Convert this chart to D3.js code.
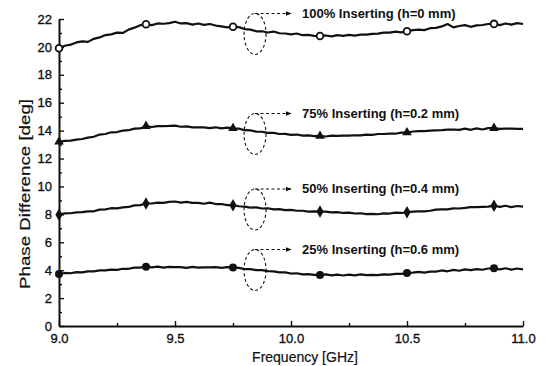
<!DOCTYPE html>
<html><head><meta charset="utf-8">
<script src="https://cdn.jsdelivr.net/npm/d3@7"></script>
<style>
html,body{margin:0;padding:0;background:#fff;}
text{font-family:"Liberation Sans",Arial,sans-serif;fill:#111;}
</style></head>
<body><svg id="chart" width="546" height="366"></svg>
<script>
// ---- data ----
const freqStart = 9.0, freqStep = 0.025; // 81 samples, 9.0 .. 11.0 GHz
const seriesNames = ["100% Inserting (h=0 mm)","75% Inserting (h=0.2 mm)","50% Inserting (h=0.4 mm)","25% Inserting (h=0.6 mm)"];
const s100 = [19.90,20.08,20.16,20.32,20.40,20.36,20.58,20.68,20.85,20.90,21.02,21.00,21.24,21.38,21.56,21.62,21.56,21.68,21.66,21.70,21.80,21.68,21.70,21.60,21.68,21.58,21.64,21.53,21.47,21.40,21.45,21.42,21.28,21.24,21.12,21.12,21.03,21.10,20.98,20.96,20.90,20.96,20.84,20.86,20.79,20.78,20.82,20.76,20.84,20.79,20.86,20.81,20.88,20.88,20.94,20.95,21.02,21.02,21.10,21.04,21.12,21.20,21.24,21.20,21.34,21.36,21.47,21.64,21.40,21.50,21.56,21.44,21.54,21.57,21.64,21.65,21.56,21.68,21.60,21.70,21.64];
const s75 = [13.20,13.26,13.28,13.36,13.40,13.50,13.56,13.72,13.76,13.88,13.90,14.00,14.03,14.14,14.16,14.32,14.26,14.32,14.33,14.34,14.36,14.28,14.30,14.23,14.24,14.24,14.18,14.24,14.16,14.22,14.17,14.14,14.03,14.02,13.93,13.92,13.84,13.84,13.76,13.77,13.70,13.72,13.64,13.66,13.61,13.62,13.58,13.64,13.62,13.64,13.64,13.67,13.66,13.72,13.70,13.76,13.76,13.78,13.78,13.86,13.86,13.94,13.96,13.97,14.00,14.02,14.04,14.07,14.08,14.06,14.14,14.06,14.16,14.08,14.18,14.18,14.12,14.14,14.14,14.12,14.12];
const s50 = [7.98,8.07,8.08,8.14,8.16,8.22,8.22,8.34,8.36,8.44,8.43,8.50,8.53,8.64,8.66,8.78,8.78,8.84,8.82,8.90,8.92,8.84,8.90,8.82,8.82,8.76,8.84,8.74,8.74,8.66,8.66,8.58,8.56,8.48,8.50,8.42,8.44,8.36,8.38,8.30,8.32,8.26,8.26,8.20,8.22,8.20,8.20,8.14,8.16,8.10,8.12,8.06,8.08,8.02,8.04,8.01,8.07,8.06,8.12,8.10,8.15,8.20,8.22,8.22,8.26,8.34,8.36,8.36,8.43,8.42,8.46,8.52,8.52,8.54,8.56,8.62,8.54,8.62,8.52,8.60,8.55];
const s25 = [3.72,3.80,3.78,3.86,3.84,3.92,3.92,3.98,3.98,4.04,4.02,4.10,4.10,4.18,4.18,4.25,4.20,4.26,4.18,4.24,4.22,4.22,4.16,4.24,4.18,4.20,4.20,4.22,4.16,4.22,4.20,4.17,4.08,4.07,4.00,4.00,3.93,3.92,3.84,3.84,3.76,3.78,3.70,3.72,3.66,3.66,3.70,3.63,3.68,3.62,3.68,3.63,3.70,3.64,3.66,3.64,3.70,3.68,3.74,3.74,3.80,3.82,3.88,3.82,3.90,3.90,3.98,3.92,4.02,3.96,4.06,4.00,4.08,4.03,4.12,4.13,4.06,4.14,4.04,4.12,4.06];
const markerIdx = [0,15,30,45,60,75];
const markerTypes = ["openCircle","triangle","diamond","circle"];
const annotCenter = [20.93,13.76,8.35,4.01]; // ellipse centre (deg)
const annotFreq = 9.845;                       // ellipse centre (GHz)
const arrowEndFreq = 10.0;
const xTicks = [9.0,9.5,10.0,10.5,11.0];
const xMinor = [9.25,9.75,10.25,10.75];
const yTicks = [0,2,4,6,8,10,12,14,16,18,20,22];
const yMinor = [1,3,5,7,9,11,13,15,17,19,21];

const allSeries = [s100,s75,s50,s25];

// ---- drawing ----
const svg = d3.select("#chart");
const x = d3.scaleLinear().domain([9,11]).range([59,523]);
const y = d3.scaleLinear().domain([0,22]).range([326,19]);
const freqs = d3.range(81).map(i=>freqStart+i*freqStep);

svg.append("defs").append("marker").attr("id","ah").attr("viewBox","0 0 10 10")
  .attr("refX",9).attr("refY",5).attr("markerWidth",6).attr("markerHeight",6)
  .attr("markerUnits","userSpaceOnUse").attr("orient","auto")
  .append("path").attr("d","M0,1 L10,5 L0,9 Z").attr("fill","#111");

// axes
svg.append("g").attr("transform",`translate(0,${y(0)})`)
  .call(d3.axisBottom(x).tickValues(xTicks).tickFormat(d3.format(".1f")).tickSizeInner(-5).tickSizeOuter(0).tickPadding(8));
svg.append("g").attr("transform",`translate(0,${y(0)})`)
  .call(d3.axisBottom(x).tickValues(xMinor).tickFormat("").tickSizeInner(-3).tickSizeOuter(0))
  .select(".domain").remove();
svg.append("g").attr("transform",`translate(${x(9)},0)`)
  .call(d3.axisLeft(y).tickValues(yTicks).tickSizeInner(-5).tickSizeOuter(0).tickPadding(7));
svg.append("g").attr("transform",`translate(${x(9)},0)`)
  .call(d3.axisLeft(y).tickValues(yMinor).tickFormat("").tickSizeInner(-3).tickSizeOuter(0))
  .select(".domain").remove();
svg.selectAll(".domain").attr("stroke","#111").attr("stroke-width",2);
svg.selectAll(".tick line").attr("stroke","#111").attr("stroke-width",1.4);
svg.selectAll(".tick text").attr("font-size",13).attr("font-family","Liberation Sans, Arial, sans-serif")
  .attr("fill","#111").attr("stroke","#111").attr("stroke-width",0.35);

// axis titles
svg.append("text").attr("x",305).attr("y",362).attr("text-anchor","middle")
  .attr("font-size",14).attr("stroke","#111").attr("stroke-width",0.2).text("Frequency [GHz]");
svg.append("text").attr("transform",`translate(30,194) rotate(-90)`).attr("text-anchor","middle")
  .attr("font-size",15).attr("textLength",190).attr("lengthAdjust","spacingAndGlyphs")
  .attr("stroke","#111").attr("stroke-width",0.2)
  .text("Phase Difference [deg]");

// lines
const line = d3.line().x((d,i)=>x(freqs[i])).y(d=>y(d));
allSeries.forEach((s,k)=>{
  svg.append("path").datum(s).attr("d",line).attr("fill","none")
    .attr("stroke","#111").attr("stroke-width",2.2).attr("stroke-linejoin","round");
  const t = markerTypes[k];
  markerIdx.forEach(i=>{
    const cx = x(freqs[i]), cy = y(s[i]);
    if(t==="openCircle"){
      svg.append("circle").attr("cx",cx).attr("cy",cy).attr("r",3.4)
        .attr("fill","#fff").attr("stroke","#111").attr("stroke-width",1.8);
    } else if(t==="circle"){
      svg.append("circle").attr("cx",cx).attr("cy",cy).attr("r",4).attr("fill","#111");
    } else {
      const sym = t==="triangle" ? d3.symbolTriangle : d3.symbolDiamond;
      svg.append("path").attr("d",d3.symbol().type(sym).size(t==="triangle"?40:45)())
        .attr("transform",`translate(${cx},${cy})`).attr("fill","#111");
    }
  });
});

// annotations
annotCenter.forEach((c,k)=>{
  const cx = x(annotFreq), cy = y(c);
  const ry = 20.5, rx = 11;
  svg.append("ellipse").attr("cx",cx).attr("cy",cy).attr("rx",rx).attr("ry",ry)
    .attr("fill","none").attr("stroke","#111").attr("stroke-width",1.1).attr("stroke-dasharray","3,2.5");
  const ay = cy - ry;
  svg.append("line").attr("x1",cx).attr("y1",ay).attr("x2",x(arrowEndFreq)).attr("y2",ay)
    .attr("stroke","#111").attr("stroke-width",1.1).attr("stroke-dasharray","3,2.5")
    .attr("marker-end","url(#ah)");
  svg.append("text").attr("x",x(arrowEndFreq)+11).attr("y",ay+4.5)
    .attr("font-size",13).attr("font-weight","bold").text(seriesNames[k]);
});
</script></body></html>
